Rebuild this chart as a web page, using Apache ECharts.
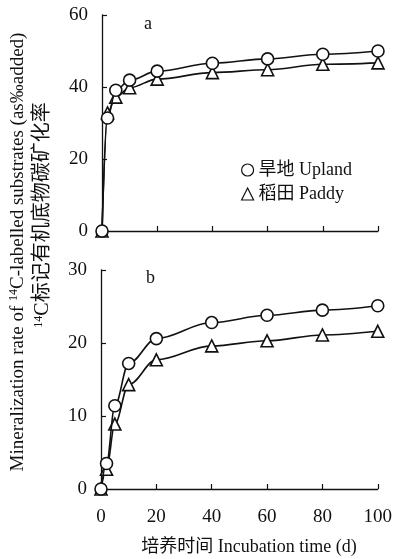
<!DOCTYPE html>
<html>
<head>
<meta charset="utf-8" />
<title>14C mineralization</title>
<script src="https://cdn.jsdelivr.net/npm/echarts@6/dist/echarts.min.js"></script>
<style>
  html, body { margin: 0; padding: 0; background: #fff; }
  #chartmain { width: 395px; height: 559px; }
</style>
</head>
<body>
<div id="chartmain"></div>
<script type="text/javascript">
// incubation days
var days = [0, 2, 5, 10, 20, 40, 60, 80, 100];
// panel a
var uplandA = [0, 31.4, 39.1, 41.9, 44.4, 46.6, 47.8, 49.1, 50.0];
var paddyA  = [0, 32.8, 37.2, 39.8, 42.2, 44.0, 44.8, 46.3, 46.7];
// panel b
var uplandB = [0, 3.5, 11.4, 17.2, 20.6, 22.8, 23.8, 24.5, 25.1];
var paddyB  = [0, 2.7, 8.9, 14.3, 17.7, 19.6, 20.3, 21.1, 21.6];
var xTicks = [0, 20, 40, 60, 80, 100];
var nameUpland = '旱地 Upland';
var namePaddy = '稻田 Paddy';

var FONT = '"Liberation Serif", "Noto Sans CJK SC", serif';
var INK = '#111';

function pairs(xs, ys) {
  return xs.map(function (x, i) { return [x, ys[i]]; });
}

function xAxisOf(idx, showLabel) {
  return {
    type: 'value', gridIndex: idx, min: xTicks[0], max: xTicks[xTicks.length - 1], interval: 20,
    axisLine: { show: true, onZero: false, lineStyle: { color: INK, width: 1.3 } },
    axisTick: { show: true, inside: true, length: 5, lineStyle: { color: INK, width: 1.2 } },
    axisLabel: { show: showLabel, color: INK, fontSize: 19, fontFamily: FONT, margin: 19 },
    splitLine: { show: false }
  };
}

function yAxisOf(idx, max, interval) {
  return {
    type: 'value', gridIndex: idx, min: 0, max: max, interval: interval,
    axisLine: { show: true, lineStyle: { color: INK, width: 1.3 } },
    axisTick: { show: true, inside: true, length: 5, lineStyle: { color: INK, width: 1.2 } },
    axisLabel: { color: INK, fontSize: 19, fontFamily: FONT, margin: 14 },
    splitLine: { show: false }
  };
}

function lineSeries(name, idx, ys, symbol) {
  return {
    name: name, type: 'line', xAxisIndex: idx, yAxisIndex: idx,
    data: pairs(days, ys),
    smooth: 0.35, smoothMonotone: 'x',
    symbol: symbol, symbolSize: 12,
    showAllSymbol: true,
    lineStyle: { color: INK, width: 1.6 },
    itemStyle: { color: '#fff', borderColor: INK, borderWidth: 1.6 },
    z: symbol === 'triangle' ? 3 : 4
  };
}

var myChart = echarts.init(document.getElementById('chartmain'));
var option = {
  backgroundColor: '#fff',
  animation: false,
  grid: [
    { left: 102, top: 15, width: 276, height: 216 },
    { left: 101, top: 270, width: 277, height: 219 }
  ],
  xAxis: [xAxisOf(0, false), xAxisOf(1, true)],
  yAxis: [yAxisOf(0, 60, 20), yAxisOf(1, 30, 10)],
  legend: {
    orient: 'vertical', left: 236, top: 156, itemGap: 6,
    itemWidth: 12, itemHeight: 12,
    textStyle: { color: INK, fontSize: 18, fontFamily: FONT },
    data: [
      { name: nameUpland, icon: 'circle', itemStyle: { color: '#fff', borderColor: INK, borderWidth: 1.2 } },
      { name: namePaddy, icon: 'triangle', itemStyle: { color: '#fff', borderColor: INK, borderWidth: 1.2 } }
    ]
  },
  graphic: [
    { type: 'text', left: 144, top: 15, style: { text: 'a', fill: INK, font: '18px "Liberation Serif"' } },
    { type: 'text', left: 146, top: 269, style: { text: 'b', fill: INK, font: '18px "Liberation Serif"' } },
    {
      type: 'text', x: 18, y: 252, rotation: Math.PI / 2,
      style: {
        text: 'Mineralization rate of {sup|14}C-labelled substrates (as‰added)',
        fill: INK, fontSize: 19, fontFamily: FONT, align: 'center', verticalAlign: 'middle',
        rich: { sup: { fontSize: 12, fontFamily: FONT, fill: INK, padding: [0, 0, 9, 0] } }
      }
    },
    {
      type: 'text', x: 43, y: 215, rotation: Math.PI / 2,
      style: {
        text: '{sup|14}C标记有机底物碳矿化率',
        fill: INK, fontSize: 20, fontFamily: FONT, align: 'center', verticalAlign: 'middle',
        rich: { sup: { fontSize: 12, fontFamily: FONT, fill: INK, padding: [0, 0, 9, 0] } }
      }
    },
    {
      type: 'text', x: 249, y: 547,
      style: { text: '培养时间 Incubation time (d)', fill: INK, fontSize: 18, fontFamily: FONT, align: 'center', verticalAlign: 'middle' }
    }
  ],
  series: [
    lineSeries(nameUpland, 0, uplandA, 'circle'),
    lineSeries(namePaddy, 0, paddyA, 'triangle'),
    lineSeries(nameUpland, 1, uplandB, 'circle'),
    lineSeries(namePaddy, 1, paddyB, 'triangle')
  ]
};
myChart.setOption(option);
</script>
</body>
</html>
